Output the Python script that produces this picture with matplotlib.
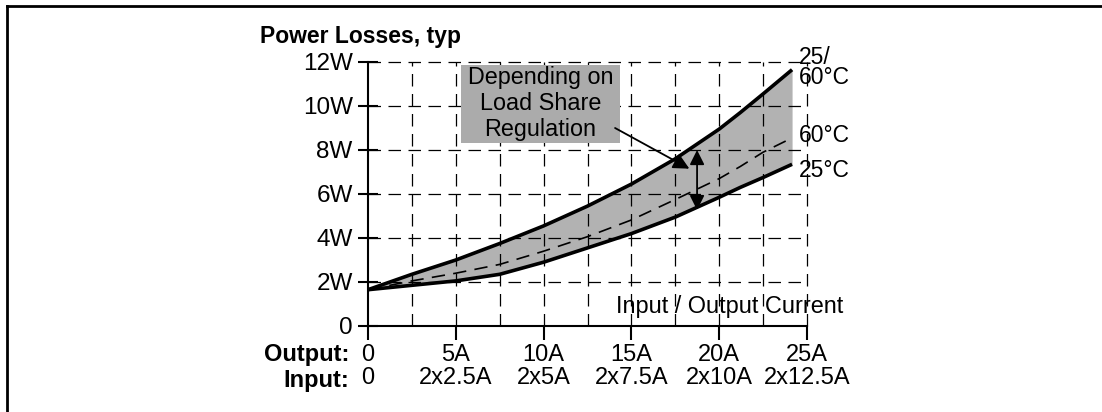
import matplotlib
matplotlib.use("Agg")
import matplotlib.pyplot as plt
from matplotlib.lines import Line2D
from matplotlib.patches import Rectangle, FancyArrowPatch

plt.rcParams["font.family"] = ["Liberation Sans", "DejaVu Sans"]

# data
current = [0, 2.5, 5, 7.5, 10, 12.5, 15, 17.5, 20, 21.2, 22.5, 24.15]
loss_max = [1.65, 2.35, 3.0, 3.75, 4.55, 5.45, 6.45, 7.6, 8.95, 9.7, 10.55, 11.65]  # 25/60°C
loss_60 = [1.65, 2.05, 2.4, 2.8, 3.4, 4.06, 4.82, 5.75, 6.7, 7.25, 7.9, 8.55]      # 60°C
loss_25 = [1.65, 1.85, 2.05, 2.35, 2.9, 3.55, 4.2, 4.95, 5.85, 6.3, 6.75, 7.35]    # 25°C

y_ticks = [0, 2, 4, 6, 8, 10, 12]
y_labels = ["0", "2W", "4W", "6W", "8W", "10W", "12W"]
x_ticks = [0, 5, 10, 15, 20, 25]
out_labels = ["0", "5A", "10A", "15A", "20A", "25A"]
in_labels = ["0", "2x2.5A", "2x5A", "2x7.5A", "2x10A", "2x12.5A"]

W, H = 1102, 412
fig = plt.figure(figsize=(W / 100, H / 100), dpi=100)
ax = fig.add_axes([368 / W, (H - 326) / H, 439 / W, 264 / H])
ax.set_xlim(0, 25)
ax.set_ylim(0, 12)

# band + curves
ax.fill_between(current, loss_25, loss_max, color="#b2b2b2", lw=0, zorder=1)
ax.plot(current, loss_max, color="black", lw=2.6, zorder=3, solid_capstyle="butt")
ax.plot(current, loss_25, color="black", lw=2.6, zorder=3, solid_capstyle="butt")
ax.plot(current, loss_60, color="black", lw=1.2, ls=(0, (8, 5)), zorder=3)

# dashed grid
for gx in [2.5 * i for i in range(1, 11)]:
    ax.plot([gx, gx], [0, 12], color="black", lw=0.9, ls=(0, (10, 6)), zorder=2, clip_on=False)
for gy in y_ticks[1:]:
    ax.plot([0, 25], [gy, gy], color="black", lw=0.9, ls=(0, (10, 6)), zorder=2, clip_on=False)

for s in ["top", "right"]:
    ax.spines[s].set_visible(False)
for s in ["left", "bottom"]:
    ax.spines[s].set_linewidth(1.5)

ax.set_yticks(y_ticks, y_labels, fontsize=17.5)
ax.tick_params(axis="y", direction="inout", length=14, width=1.5, pad=4)
ax.set_xticks(x_ticks, [f"{o}\n{i}" for o, i in zip(out_labels, in_labels)],
              fontsize=17, linespacing=1.05)
ax.tick_params(axis="x", direction="out", length=10, width=1.5, pad=3)

# annotation box
ax.add_patch(Rectangle((5.3, 8.32), 9.05, 3.54, facecolor="#ababab", edgecolor="none",
                       zorder=4, clip_on=False))
ax.text(9.82, 10.1, "Depending on\nLoad Share\nRegulation", ha="center", va="center",
        fontsize=16.8, linespacing=1.17, zorder=5)
ax.add_patch(FancyArrowPatch((14.07, 9.0), (18.3, 7.15), arrowstyle="-|>",
                             mutation_scale=24, lw=1.3, color="black", zorder=5,
                             shrinkA=0, shrinkB=0))
ax.add_patch(FancyArrowPatch((18.74, 5.27), (18.74, 8.0), arrowstyle="<|-|>",
                             mutation_scale=22, lw=1.3, color="black", zorder=5,
                             shrinkA=0, shrinkB=0))

# curve labels
ax.text(24.55, 11.75, "25/\n60°C", fontsize=16.5, va="center", ha="left", linespacing=0.83)
ax.text(24.55, 8.68, "60°C", fontsize=16.5, va="center", ha="left")
ax.text(24.55, 7.08, "25°C", fontsize=16.5, va="center", ha="left")
ax.text(20.6, 0.9, "Input / Output Current", fontsize=16.9, ha="center", va="center")

fig.text(260 / W, 1 - 36 / H, "Power Losses, typ", fontsize=16.5, fontweight="bold",
         ha="left", va="center")
fig.text(349 / W, 1 - 355 / H, "Output:", fontsize=17, fontweight="bold", ha="right", va="center")
fig.text(349 / W, 1 - 380 / H, "Input:", fontsize=17, fontweight="bold", ha="right", va="center")

# outer frame (top and left edge)
fig.add_artist(Line2D([7 / W, 1], [1 - 6 / H, 1 - 6 / H], color="black", lw=2))
fig.add_artist(Line2D([7 / W, 7 / W], [0, 1 - 6 / H], color="black", lw=2))

fig.savefig("out.png", dpi=100)
